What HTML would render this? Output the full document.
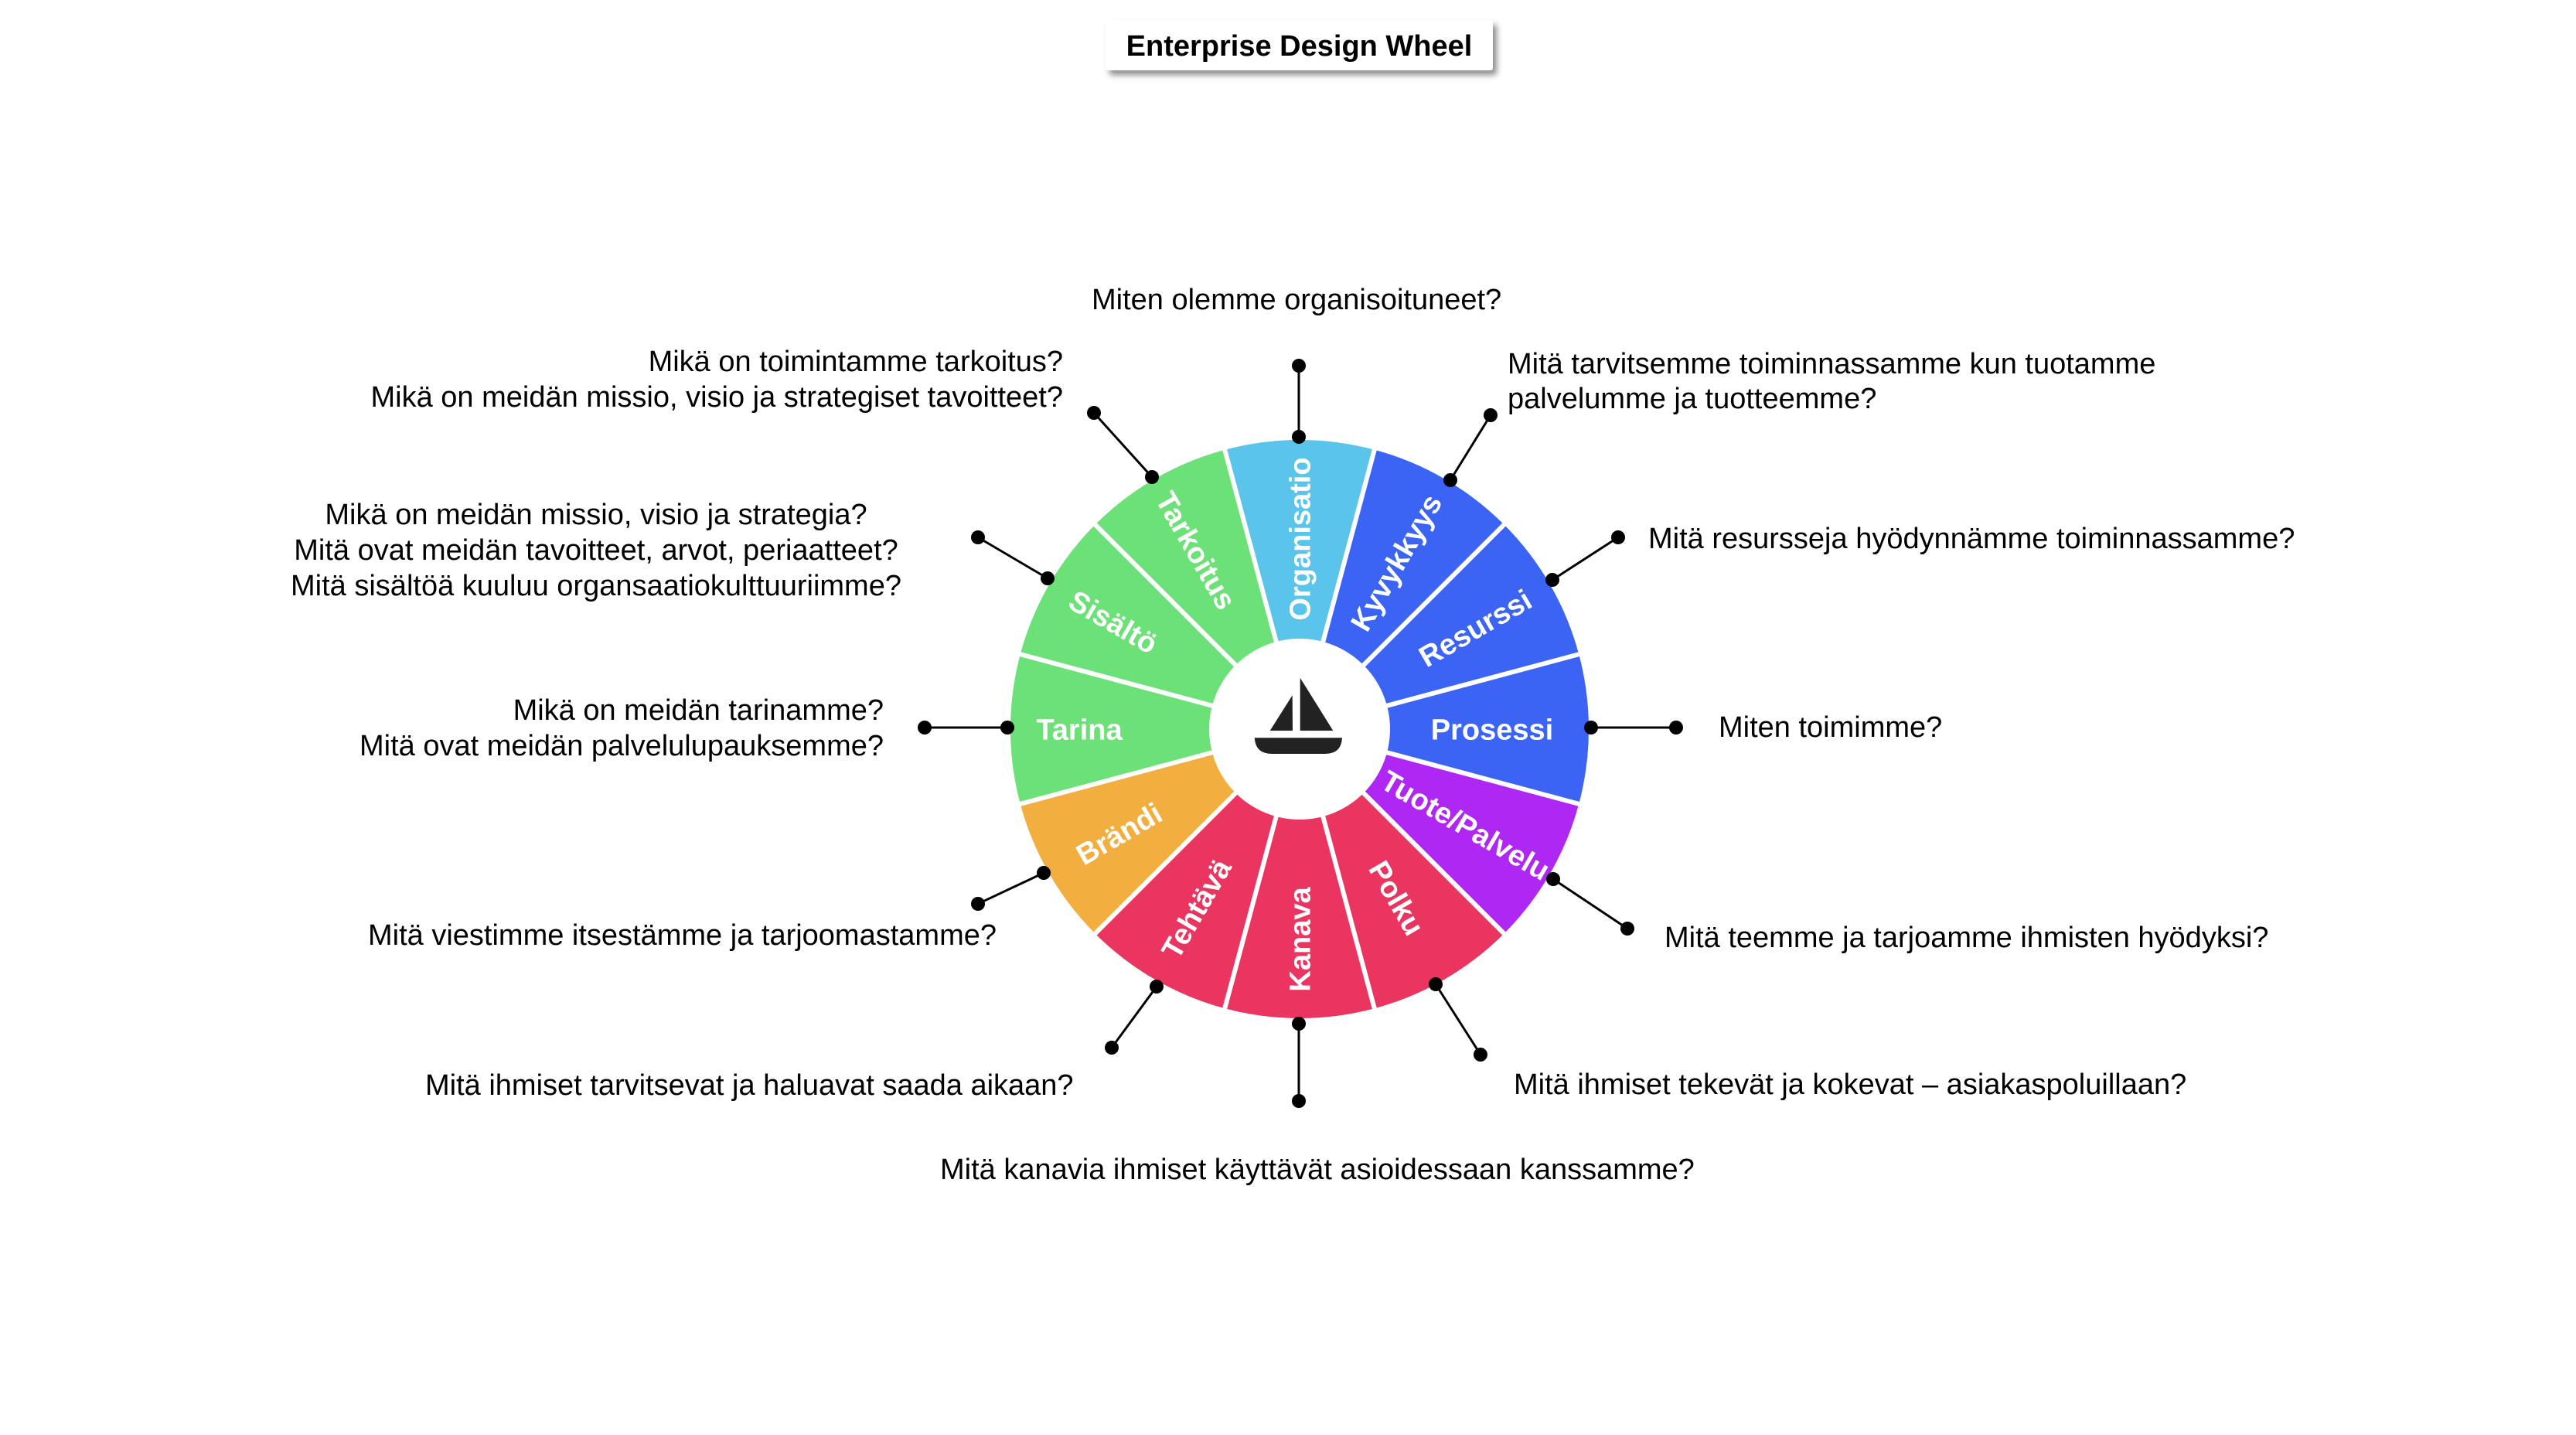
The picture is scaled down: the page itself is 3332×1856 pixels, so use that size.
<!DOCTYPE html>
<html>
<head>
<meta charset="utf-8">
<style>
  html, body { margin: 0; padding: 0; background: #ffffff; }
  svg { display: block; }
  .q { font-family: "Liberation Sans", Arial, sans-serif; font-size: 38px; fill: #000; }
  .lbl { font-family: "Liberation Sans", Arial, sans-serif; font-size: 38px; font-weight: bold; fill: #ffffff; }
</style>
</head>
<body>
<svg width="3332" height="1856" viewBox="0 0 3332 1856" xmlns="http://www.w3.org/2000/svg">
  <defs>
    <filter id="sh" x="-10%" y="-30%" width="120%" height="170%">
      <feDropShadow dx="5" dy="6" stdDeviation="4" flood-color="#000" flood-opacity="0.45"/>
    </filter>
  </defs>
  <rect x="0" y="0" width="3332" height="1856" fill="#ffffff"/>

  <!-- Title -->
  <rect x="1430" y="26" width="501" height="65" rx="3" fill="#ffffff" filter="url(#sh)"/>
  <text x="1680.5" y="72" text-anchor="middle" font-family="Liberation Sans, Arial, sans-serif" font-size="38" font-weight="bold" fill="#000">Enterprise Design Wheel</text>

  <!-- Wheel sectors -->
  <g>
    <path d="M1681,943 L1584.20,581.74 A374,374 0 0 1 1777.80,581.74 Z" fill="#5AC4EA"/>
    <path d="M1681,943 L1777.80,581.74 A374,374 0 0 1 1945.46,678.54 Z" fill="#3B64F4"/>
    <path d="M1681,943 L1945.46,678.54 A374,374 0 0 1 2042.26,846.20 Z" fill="#3B64F4"/>
    <path d="M1681,943 L2042.26,846.20 A374,374 0 0 1 2042.26,1039.80 Z" fill="#3B64F4"/>
    <path d="M1681,943 L2042.26,1039.80 A374,374 0 0 1 1945.46,1207.46 Z" fill="#AE27F2"/>
    <path d="M1681,943 L1945.46,1207.46 A374,374 0 0 1 1777.80,1304.26 Z" fill="#E9355F"/>
    <path d="M1681,943 L1777.80,1304.26 A374,374 0 0 1 1584.20,1304.26 Z" fill="#E9355F"/>
    <path d="M1681,943 L1584.20,1304.26 A374,374 0 0 1 1416.54,1207.46 Z" fill="#E9355F"/>
    <path d="M1681,943 L1416.54,1207.46 A374,374 0 0 1 1319.74,1039.80 Z" fill="#F2AE3F"/>
    <path d="M1681,943 L1319.74,1039.80 A374,374 0 0 1 1319.74,846.20 Z" fill="#6CE178"/>
    <path d="M1681,943 L1319.74,846.20 A374,374 0 0 1 1416.54,678.54 Z" fill="#6CE178"/>
    <path d="M1681,943 L1416.54,678.54 A374,374 0 0 1 1584.20,581.74 Z" fill="#6CE178"/>
  </g>
  <!-- white dividers -->
  <g stroke="#ffffff" stroke-width="6">
    <line x1="1582.65" y1="575.95" x2="1779.35" y2="1310.05"/>
    <line x1="1779.35" y1="575.95" x2="1582.65" y2="1310.05"/>
    <line x1="1949.70" y1="674.30" x2="1412.30" y2="1211.70"/>
    <line x1="2048.05" y1="844.65" x2="1313.95" y2="1041.35"/>
    <line x1="2048.05" y1="1041.35" x2="1313.95" y2="844.65"/>
    <line x1="1949.70" y1="1211.70" x2="1412.30" y2="674.30"/>
  </g>
  <!-- center hole -->
  <circle cx="1681" cy="943" r="117" fill="#ffffff"/>

  <!-- Boat icon -->
  <g fill="#222222">
    <polygon points="1671.7,899.3 1642.7,945 1672,945"/>
    <polygon points="1681.7,876.7 1681.7,945 1724.3,945"/>
    <path d="M1622.7,954.3 L1736,954.3 Q1735,975 1714,975 L1645,975 Q1624,975 1622.7,954.3 Z"/>
  </g>

  <!-- Segment labels -->
  <g class="lbl" text-anchor="middle">
    <text transform="translate(1681,697) rotate(-90)" dy="0.36em">Organisatio</text>
    <text transform="translate(1805.5,727.4) rotate(-60)" dy="0.36em">Kyvykkyys</text>
    <text transform="translate(1907.9,812) rotate(-30)" dy="0.36em">Resurssi</text>
    <text transform="translate(1930,943) rotate(0)" dy="0.36em">Prosessi</text>
    <text transform="translate(1895.8,1067) rotate(30)" dy="0.36em">Tuote/Palvelu</text>
    <text transform="translate(1807,1161.2) rotate(60)" dy="0.36em">Polku</text>
    <text transform="translate(1681,1215) rotate(-90)" dy="0.36em">Kanava</text>
    <text transform="translate(1547,1175.1) rotate(-60)" dy="0.36em">Tehtävä</text>
    <text transform="translate(1447.2,1078) rotate(-30)" dy="0.36em">Brändi</text>
    <text transform="translate(1396,943) rotate(0)" dy="0.36em">Tarina</text>
    <text transform="translate(1440.2,804) rotate(30)" dy="0.36em">Sisältö</text>
    <text transform="translate(1547.5,711.8) rotate(60)" dy="0.36em">Tarkoitus</text>
  </g>

  <!-- Connectors -->
  <g stroke="#000" stroke-width="3">
    <line x1="1680" y1="565" x2="1680" y2="473"/>
    <line x1="1876" y1="621" x2="1928" y2="537"/>
    <line x1="2008" y1="750" x2="2093" y2="695"/>
    <line x1="2058" y1="941" x2="2168" y2="941"/>
    <line x1="2009" y1="1137" x2="2105" y2="1201"/>
    <line x1="1857" y1="1273" x2="1915" y2="1364"/>
    <line x1="1680" y1="1324" x2="1680" y2="1424"/>
    <line x1="1496" y1="1276" x2="1438" y2="1355"/>
    <line x1="1350" y1="1129" x2="1265" y2="1169"/>
    <line x1="1303" y1="941" x2="1196" y2="941"/>
    <line x1="1355" y1="748" x2="1265" y2="695"/>
    <line x1="1490" y1="617" x2="1415" y2="534"/>
  </g>
  <g fill="#000">
    <circle cx="1680" cy="565" r="9"/><circle cx="1680" cy="473" r="9"/>
    <circle cx="1876" cy="621" r="9"/><circle cx="1928" cy="537" r="9"/>
    <circle cx="2008" cy="750" r="9"/><circle cx="2093" cy="695" r="9"/>
    <circle cx="2058" cy="941" r="9"/><circle cx="2168" cy="941" r="9"/>
    <circle cx="2009" cy="1137" r="9"/><circle cx="2105" cy="1201" r="9"/>
    <circle cx="1857" cy="1273" r="9"/><circle cx="1915" cy="1364" r="9"/>
    <circle cx="1680" cy="1324" r="9"/><circle cx="1680" cy="1424" r="9"/>
    <circle cx="1496" cy="1276" r="9"/><circle cx="1438" cy="1355" r="9"/>
    <circle cx="1350" cy="1129" r="9"/><circle cx="1265" cy="1169" r="9"/>
    <circle cx="1303" cy="941" r="9"/><circle cx="1196" cy="941" r="9"/>
    <circle cx="1355" cy="748" r="9"/><circle cx="1265" cy="695" r="9"/>
    <circle cx="1490" cy="617" r="9"/><circle cx="1415" cy="534" r="9"/>
  </g>

  <!-- Question texts -->
  <g class="q">
    <text x="1412" y="400">Miten olemme organisoituneet?</text>
    <text x="1950" y="483">Mitä tarvitsemme toiminnassamme kun tuotamme</text>
    <text x="1950" y="528">palvelumme ja tuotteemme?</text>
    <text x="2132" y="709">Mitä resursseja hyödynnämme toiminnassamme?</text>
    <text x="2223" y="953">Miten toimimme?</text>
    <text x="2153" y="1225">Mitä teemme ja tarjoamme ihmisten hyödyksi?</text>
    <text x="1958" y="1415">Mitä ihmiset tekevät ja kokevat – asiakaspoluillaan?</text>
    <text x="1216" y="1525">Mitä kanavia ihmiset käyttävät asioidessaan kanssamme?</text>
    <text x="550" y="1416">Mitä ihmiset tarvitsevat ja haluavat saada aikaan?</text>
    <text x="476" y="1222">Mitä viestimme itsestämme ja tarjoomastamme?</text>
    <text x="1143" y="931" text-anchor="end">Mikä on meidän tarinamme?</text>
    <text x="1143" y="977" text-anchor="end">Mitä ovat meidän palvelulupauksemme?</text>
    <text x="771" y="678" text-anchor="middle">Mikä on meidän missio, visio ja strategia?</text>
    <text x="771" y="724" text-anchor="middle">Mitä ovat meidän tavoitteet, arvot, periaatteet?</text>
    <text x="771" y="770" text-anchor="middle">Mitä sisältöä kuuluu organsaatiokulttuuriimme?</text>
    <text x="1375" y="480" text-anchor="end">Mikä on toimintamme tarkoitus?</text>
    <text x="1375" y="526" text-anchor="end">Mikä on meidän missio, visio ja strategiset tavoitteet?</text>
  </g>
</svg>
</body>
</html>
